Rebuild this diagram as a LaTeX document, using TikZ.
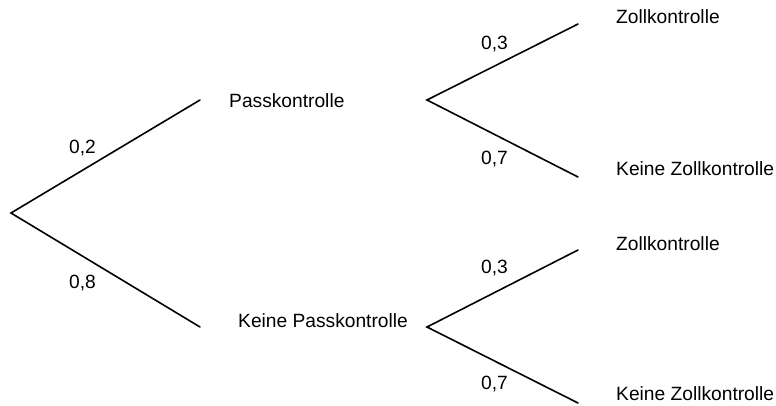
\documentclass[tikz,border=0pt]{standalone}
\usepackage{fontspec}
\setmainfont{Liberation Sans}
\begin{document}
\begin{tikzpicture}[x=1pt,y=-1pt,
  branch/.style={line width=1.6pt,line cap=round},
  lbl/.style={inner sep=0pt,anchor=west,font=\fontsize{19.2}{21}\selectfont,text height=0.72em,text depth=0pt},
  prob/.style={inner sep=0pt,anchor=west,font=\fontsize{19.2}{21}\selectfont,text height=0.72em,text depth=0pt}]
\useasboundingbox (0,0) rectangle (776,405);
% branching points and branch ends
\coordinate (r) at (11,213);
\coordinate (p) at (200,100);
\coordinate (kp) at (200,327);
\coordinate (p1) at (427,100);
\coordinate (k1) at (427,327);
\coordinate (pz) at (578,24);
\coordinate (pkz) at (578,177);
\coordinate (kz) at (578,250);
\coordinate (kkz) at (578,403);
% connectors
\draw[branch] (p) -- (r) -- (kp);
\draw[branch] (pz) -- (p1) -- (pkz);
\draw[branch] (kz) -- (k1) -- (kkz);
% texts
\node[lbl] (tp) at (229,104) {Passkontrolle};
\node[lbl] (tkp) at (238,324) {Keine Passkontrolle};
\node[lbl] (tz1) at (616,20) {Zollkontrolle};
\node[lbl] (tkz1) at (616,172) {Keine Zollkontrolle};
\node[lbl] (tz2) at (616,247) {Zollkontrolle};
\node[lbl] (tkz2) at (616,396.5) {Keine Zollkontrolle};
% probabilities
\node[prob] (a) at (69,150) {0,2};
\node[prob] (b) at (69,285) {0,8};
\node[prob] (c) at (481,46) {0,3};
\node[prob] (d) at (481,161) {0,7};
\node[prob] (e) at (481,270) {0,3};
\node[prob] (f) at (481,386) {0,7};
\end{tikzpicture}
\end{document}
